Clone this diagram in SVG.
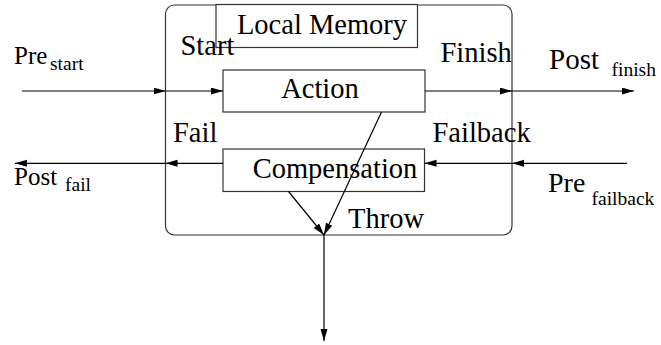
<svg xmlns="http://www.w3.org/2000/svg" width="661" height="345" viewBox="0 0 661 345">
<style>
text{font-family:'Liberation Serif','Times New Roman',serif;fill:#000}
.m{font-size:28.5px}
.s{font-size:19.5px}
.box{fill:#fff;stroke:#333;stroke-width:1.2}
.ln{stroke:#000;stroke-width:1.2;fill:none}
</style>
<defs>
<marker id="ah" markerUnits="userSpaceOnUse" markerWidth="13" markerHeight="8" refX="12" refY="3.5" orient="auto">
<path d="M0,0 L12,3.5 L0,7 z" fill="#000"/>
</marker>
</defs>
<g id="container">
<rect x="165.5" y="5" width="346.5" height="230" rx="9" ry="9" fill="none" stroke="#333" stroke-width="1.2"/>
</g>
<g id="local-memory">
<rect class="box" x="216" y="4.5" width="201.5" height="43"/>
<text class="m" x="322" y="34" text-anchor="middle">Local Memory</text>
</g>
<g id="action">
<rect class="box" x="223" y="70" width="202" height="42"/>
<text class="m" x="320" y="98" text-anchor="middle">Action</text>
</g>
<g id="compensation">
<rect class="box" x="223" y="149" width="201.5" height="42.5"/>
<text class="m" x="335" y="178" text-anchor="middle">Compensation</text>
</g>
<g id="connectors">
<line class="ln" x1="22" y1="91" x2="165.5" y2="91" marker-end="url(#ah)"/>
<line class="ln" x1="165.5" y1="91" x2="223" y2="91" marker-end="url(#ah)"/>
<line class="ln" x1="425" y1="91" x2="512" y2="91" marker-end="url(#ah)"/>
<line class="ln" x1="512" y1="91" x2="634" y2="91" marker-end="url(#ah)"/>
<line class="ln" x1="223" y1="163.3" x2="165.5" y2="163.3" marker-end="url(#ah)"/>
<line class="ln" x1="165.5" y1="163.3" x2="15" y2="163.3" marker-end="url(#ah)"/>
<line class="ln" x1="627" y1="163.3" x2="512" y2="163.3" marker-end="url(#ah)"/>
<line class="ln" x1="512" y1="163.3" x2="424.5" y2="163.3" marker-end="url(#ah)"/>
<line class="ln" x1="381.5" y1="112" x2="324" y2="235" marker-end="url(#ah)"/>
<line class="ln" x1="288.5" y1="191.5" x2="324" y2="235" marker-end="url(#ah)"/>
<line class="ln" x1="324" y1="235" x2="324" y2="341" marker-end="url(#ah)"/>
</g>
<g id="labels">
<text x="14" y="63.5" font-size="25">Pre<tspan class="s" x="50" y="69.5">start</tspan></text>
<text class="m" x="180.5" y="55">Start</text>
<text class="m" x="440.5" y="62">Finish</text>
<text x="549" y="69" font-size="29">Post<tspan class="s" x="611.5" y="75.5">finish</tspan></text>
<text class="m" x="173" y="141.5">Fail</text>
<text class="m" x="432.5" y="141.5">Failback</text>
<text x="14" y="185" font-size="25">Post<tspan class="s" x="65" y="190.5">fail</tspan></text>
<text x="548" y="191.5" font-size="28">Pre<tspan class="s" x="591.5" y="205">failback</tspan></text>
<text class="m" x="348" y="227.5">Throw</text>
</g>
</svg>
